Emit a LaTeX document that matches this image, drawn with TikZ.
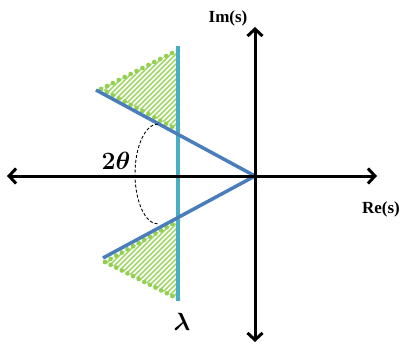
\documentclass[tikz,border=0pt]{standalone}
\usepackage{fontspec}
\setmainfont{Liberation Serif}
\usetikzlibrary{arrows.meta,calc}
\definecolor{axisblue}{RGB}{74,126,187}
\definecolor{cyanline}{RGB}{75,172,198}
\definecolor{hatchgreen}{RGB}{146,208,80}
\begin{document}
\begin{tikzpicture}[x=1pt,y=-1pt,
  axis/.style={line width=3pt,-{Straight Barb[length=7pt,width=15pt,line width=3pt]}},
  ray/.style={draw=axisblue,line width=3.5pt},
  hatch/.style={draw=hatchgreen!85,line width=1.5pt},
  dotc/.style={fill=hatchgreen},
  lbl/.style={font=\bfseries\fontsize{17}{17}\selectfont,inner sep=0pt},
  mlbl/.style={font=\boldmath\fontsize{27}{27}\selectfont,inner sep=0pt}]
\useasboundingbox (0,0) rectangle (402,345);
% key points
\coordinate (O) at (255,176);
\coordinate (L) at (7,176);
\coordinate (R) at (377,176);
\coordinate (T) at (255,27);
\coordinate (B) at (255,342);
\coordinate (UA) at (96,90);
\coordinate (LA) at (103,258);
\coordinate (CT) at (178,46);
\coordinate (CB) at (178,301);
\coordinate (U1) at (101,89);
\coordinate (U2) at (178,50);
\coordinate (U3) at (178,130);
\coordinate (D1) at (105,262);
\coordinate (D2) at (178,221);
\coordinate (D3) at (178,299);
% shaded regions
\begin{scope}
  \clip (U1) -- (U2) -- (U3) -- cycle;
  \foreach \i in {-80,-75,...,180} \draw[hatch] (\i,140) -- ++(100,-100);
\end{scope}
\begin{scope}
  \clip (D1) -- (D2) -- (D3) -- cycle;
  \foreach \i in {-80,-75,...,180} \draw[hatch] (\i,305) -- ++(100,-100);
\end{scope}
% dotted rims
\foreach \a/\b/\n in {U1/U2/13,U2/U3/13,U3/U1/13,D1/D2/13,D2/D3/13,D3/D1/13}{
  \foreach \k in {0,...,\n} \fill[dotc] ($(\a)!{\k/\n}!(\b)$) circle (2.3pt);
}
% cyan line
\draw[draw=cyanline,line width=3.5pt] (CT) -- (CB);
% blue rays
\draw[ray] (UA) -- (O);
\draw[ray] (LA) -- (O);
% axes
\draw[axis] (O) -- (L);
\draw[axis] (O) -- (R);
\draw[axis] (O) -- (T);
\draw[axis] (O) -- (B);
% angle arc
\draw[line width=0.9pt,dash pattern=on 3pt off 2pt] (158,124) arc[start angle=-90,end angle=-270,x radius=23,y radius=50];
% labels
\node[mlbl] (theta) at (116,161) {$2\theta$};
\node[mlbl] (lam) at (182,322) {$\lambda$};
\node[lbl] (im) at (228,18) {Im(s)};
\node[lbl] (re) at (381,209) {Re(s)};
\end{tikzpicture}
\end{document}
